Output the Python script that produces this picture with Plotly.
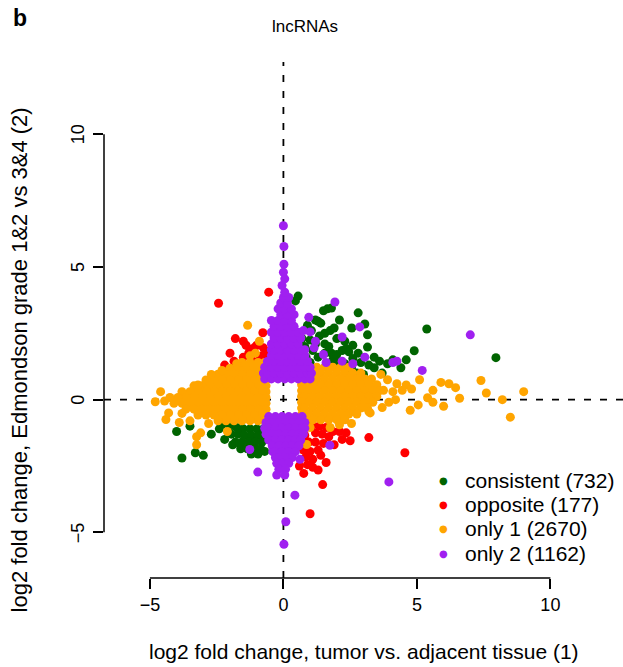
import plotly.graph_objects as go

# ---------------- data ----------------
consistent_pts = [
    (0.55, 3.9), (0.45, 3.72), (1.5, 3.35), (1.65, 3.42), (1.8, 3.45), (2.8, 3.27), (3.05, 2.85),
    (2.56, 2.7), (3.15, 2.44), (5.37, 2.66), (4.9, 1.84), (3.15, 1.98), (2.2, 1.85), (2.35, 1.92),
    (2.45, 1.8), (1.2, 3.0), (1.3, 2.95), (1.4, 2.88), (0.7, 2.3), (1.0, 2.25), (1.2, 2.1),
    (1.55, 2.1), (1.7, 2.0), (1.55, 2.5), (1.75, 2.6), (1.85, 1.5), (2.0, 1.45), (2.3, 1.35),
    (2.55, 1.2), (2.35, 1.1), (3.6, 1.45), (3.9, 1.35), (4.1, 1.5), (4.6, 1.5), (4.4, 1.2),
    (2.75, 1.0), (3.0, 0.95), (7.96, 1.58), (0.85, 1.6), (1.0, 1.4), (1.3, 1.6), (1.55, 1.75),
    (1.8, 1.75), (2.0, 1.7), (2.9, 1.4), (3.2, 1.3), (2.6, 1.55), (0.9, 2.8), (2.0, 2.3),
    (2.3, 2.2), (2.6, 2.05), (1.9, 2.7), (2.1, 3.0), (1.6, 1.3), (3.4, 1.2), (3.7, 1.0),
    (1.05, 2.6), (1.35, 2.4), (2.8, 1.75), (3.4, 1.6), (1.1, 1.85), (0.8, 2.0),
    (-4.0, -1.2), (-3.5, -1.0), (-2.7, -1.3), (-3.8, -2.2), (-3.3, -2.0), (-3.0, -2.1),
    (-2.2, -1.5), (-2.4, -1.1), (-2.3, -0.95), (-2.0, -1.0), (-1.75, -1.05), (-1.5, -1.1),
    (-1.25, -1.1), (-1.0, -1.1), (-0.75, -1.1), (-1.95, -1.3), (-1.7, -1.3), (-1.45, -1.35),
    (-1.2, -1.35), (-0.95, -1.35), (-0.7, -1.35), (-1.8, -1.6), (-1.55, -1.6), (-1.3, -1.6),
    (-1.05, -1.6), (-0.8, -1.6), (-1.6, -1.85), (-1.35, -1.85), (-1.1, -1.85), (-0.85, -1.85),
    (-0.7, -1.95), (-1.2, -2.05), (-0.95, -2.05), (-1.9, -1.7), (-1.65, -1.65),
]

opposite_pts = [
    (-2.43, 3.63), (-0.55, 4.05), (-0.77, 2.52), (-1.8, 2.3), (-1.5, 2.2), (-1.4, 2.05),
    (-2.0, 1.75), (-1.85, 1.45), (-1.8, 1.24), (-1.5, 1.6), (-1.3, 1.75), (-1.1, 1.95),
    (-1.0, 2.05), (-0.8, 1.65), (-0.6, 1.8), (-0.55, 1.6), (-0.75, 1.95), (-1.6, 1.3),
    (-1.4, 1.15), (-1.15, 1.45), (-2.2, 1.3), (-0.9, 1.5), (-0.65, 1.4), (-1.25, 1.9),
    (1.1, -0.95), (1.35, -1.0), (1.6, -1.05), (1.85, -1.2), (1.2, -1.25), (1.45, -1.3),
    (1.7, -1.4), (2.1, -1.2), (2.35, -1.25), (2.5, -1.55), (2.2, -1.5), (3.2, -1.43),
    (4.55, -2.0), (0.6, -1.2), (0.8, -1.35), (0.7, -1.6), (0.95, -1.6), (1.2, -1.6),
    (0.75, -1.9), (1.0, -1.95), (1.3, -1.9), (0.85, -2.15), (1.1, -2.25), (1.6, -2.37),
    (1.3, -2.65), (1.1, -2.55), (1.47, -3.2), (0.76, -2.78), (1.0, -4.3), (0.6, -2.5),
    (0.9, -2.45), (1.9, -1.7), (1.5, -1.65), (1.4, -2.1),
]

only1_pts = [
    # left band (dense core)
    (-0.7, 1.4), (-0.95, 1.4), (-1.25, 1.4), (-1.55, 1.4),
    (-0.65, 1.18), (-0.8, 1.18), (-1.1, 1.18), (-1.4, 1.18), (-1.7, 1.18), (-2.0, 1.18),
    (-0.65, 0.96), (-0.95, 0.96), (-1.25, 0.96), (-1.55, 0.96), (-1.85, 0.96), (-2.15, 0.96), (-2.45, 0.96),
    (-0.65, 0.74), (-0.8, 0.74), (-1.1, 0.74), (-1.4, 0.74), (-1.7, 0.74), (-2.0, 0.74), (-2.3, 0.74),
    (-2.6, 0.74), (-2.9, 0.74),
    (-0.65, 0.52), (-0.95, 0.52), (-1.25, 0.52), (-1.55, 0.52), (-1.85, 0.52), (-2.15, 0.52),
    (-2.45, 0.52), (-2.75, 0.52), (-3.05, 0.52), (-3.35, 0.52),
    (-0.65, 0.3), (-0.8, 0.3), (-1.1, 0.3), (-1.4, 0.3), (-1.7, 0.3), (-2.0, 0.3), (-2.3, 0.3),
    (-2.6, 0.3), (-2.9, 0.3), (-3.2, 0.3), (-3.5, 0.3), (-3.8, 0.3),
    (-0.65, 0.08), (-0.95, 0.08), (-1.25, 0.08), (-1.55, 0.08), (-1.85, 0.08), (-2.15, 0.08),
    (-2.45, 0.08), (-2.75, 0.08), (-3.05, 0.08), (-3.35, 0.08), (-3.65, 0.08), (-3.95, 0.08), (-4.25, 0.08),
    (-0.65, -0.14), (-0.8, -0.14), (-1.1, -0.14), (-1.4, -0.14), (-1.7, -0.14), (-2.0, -0.14),
    (-2.3, -0.14), (-2.6, -0.14), (-2.9, -0.14), (-3.2, -0.14), (-3.5, -0.14), (-3.8, -0.14), (-4.1, -0.14),
    (-0.65, -0.36), (-0.95, -0.36), (-1.25, -0.36), (-1.55, -0.36), (-1.85, -0.36), (-2.15, -0.36),
    (-2.45, -0.36), (-2.75, -0.36), (-3.05, -0.36), (-3.35, -0.36), (-3.65, -0.36),
    (-0.65, -0.58), (-0.8, -0.58), (-1.1, -0.58), (-1.4, -0.58), (-1.7, -0.58), (-2.0, -0.58),
    (-2.3, -0.58), (-2.6, -0.58), (-2.9, -0.58), (-3.2, -0.58),
    (-0.7, -0.8), (-0.95, -0.8), (-1.25, -0.8), (-1.55, -0.8), (-1.85, -0.8), (-2.15, -0.8), (-2.45, -0.8),
    # left sparse
    (-4.6, 0.3), (-4.8, -0.08), (-4.45, -0.05), (-4.3, -0.5), (-4.4, -0.75), (-3.9, -0.86),
    (-3.8, -0.52), (-3.5, -0.8), (-3.25, -1.4), (-3.25, -1.7), (-2.8, -0.9), (-2.1, -1.2),
    (-3.1, -1.25), (-1.34, 2.8), (-0.9, 2.2), (-1.25, 1.65), (-1.05, 1.75), (-2.7, 0.95),
    (-3.2, 0.55), (-2.3, 1.1), (-1.75, 1.35),
    # right band (dense core)
    (0.7, 1.22), (0.95, 1.22), (1.25, 1.22), (1.55, 1.22), (1.85, 1.22), (2.15, 1.22), (2.45, 1.22),
    (0.68, 1.0), (0.8, 1.0), (1.1, 1.0), (1.4, 1.0), (1.7, 1.0), (2.0, 1.0), (2.3, 1.0), (2.6, 1.0), (2.9, 1.0),
    (0.68, 0.78), (0.95, 0.78), (1.25, 0.78), (1.55, 0.78), (1.85, 0.78), (2.15, 0.78), (2.45, 0.78),
    (2.75, 0.78), (3.05, 0.78), (3.3, 0.78),
    (0.68, 0.56), (0.8, 0.56), (1.1, 0.56), (1.4, 0.56), (1.7, 0.56), (2.0, 0.56), (2.3, 0.56),
    (2.6, 0.56), (2.9, 0.56), (3.2, 0.56), (3.5, 0.56),
    (0.68, 0.34), (0.95, 0.34), (1.25, 0.34), (1.55, 0.34), (1.85, 0.34), (2.15, 0.34), (2.45, 0.34),
    (2.75, 0.34), (3.05, 0.34), (3.35, 0.34), (3.6, 0.34),
    (0.68, 0.12), (0.8, 0.12), (1.1, 0.12), (1.4, 0.12), (1.7, 0.12), (2.0, 0.12), (2.3, 0.12),
    (2.6, 0.12), (2.9, 0.12), (3.2, 0.12), (3.5, 0.12),
    (0.68, -0.1), (0.95, -0.1), (1.25, -0.1), (1.55, -0.1), (1.85, -0.1), (2.15, -0.1), (2.45, -0.1),
    (2.75, -0.1), (3.05, -0.1), (3.35, -0.1),
    (0.68, -0.32), (0.8, -0.32), (1.1, -0.32), (1.4, -0.32), (1.7, -0.32), (2.0, -0.32), (2.3, -0.32),
    (2.6, -0.32), (2.9, -0.32), (3.15, -0.32),
    (0.7, -0.54), (0.95, -0.54), (1.25, -0.54), (1.55, -0.54), (1.85, -0.54), (2.15, -0.54),
    (2.45, -0.54), (2.75, -0.54),
    (0.8, -0.76), (1.1, -0.76), (1.4, -0.76), (1.7, -0.76), (2.0, -0.76), (2.3, -0.76),
    # right sparse
    (3.9, 0.75), (4.25, 0.6), (4.6, 0.55), (3.75, 0.35), (4.1, 0.3), (4.45, 0.35), (4.8, 0.4),
    (4.75, -0.4), (3.95, -0.1), (3.7, -0.3), (3.25, -0.5), (5.4, 0.07), (4.2, 0.0), (3.65, 0.95),
    (1.0, -1.05), (1.75, -1.05), (2.1, -0.95), (2.55, -0.9), (0.87, -1.69), (3.2, -0.45),
    (5.6, 0.35), (5.9, 0.65), (6.2, 0.6), (6.45, 0.45), (6.6, 0.05), (5.6, -0.1), (6.0, -0.25),
    (7.4, 0.72), (7.6, 0.25), (8.2, 0.0), (9.0, 0.3), (8.5, -0.66), (5.1, 0.75), (5.05, -0.2),
]

only2_pts = [
    # upper column (dense core)
    (-0.7, 0.78), (-0.45, 0.78), (-0.2, 0.78), (0.05, 0.78), (0.3, 0.78), (0.55, 0.78), (0.8, 0.78), (1.0, 0.78),
    (-0.75, 1.0), (-0.6, 1.0), (-0.35, 1.0), (-0.1, 1.0), (0.15, 1.0), (0.4, 1.0), (0.65, 1.0), (0.9, 1.0), (1.05, 1.0),
    (-0.7, 1.22), (-0.45, 1.22), (-0.2, 1.22), (0.05, 1.22), (0.3, 1.22), (0.55, 1.22), (0.8, 1.22), (1.0, 1.22),
    (-0.6, 1.44), (-0.35, 1.44), (-0.1, 1.44), (0.15, 1.44), (0.4, 1.44), (0.65, 1.44), (0.9, 1.44),
    (-0.45, 1.66), (-0.2, 1.66), (0.05, 1.66), (0.3, 1.66), (0.55, 1.66), (0.8, 1.66),
    (-0.45, 1.88), (-0.35, 1.88), (-0.1, 1.88), (0.15, 1.88), (0.4, 1.88), (0.65, 1.88), (0.8, 1.88),
    (-0.45, 2.1), (-0.2, 2.1), (0.05, 2.1), (0.3, 2.1), (0.55, 2.1),
    (-0.35, 2.32), (-0.1, 2.32), (0.15, 2.32), (0.4, 2.32), (0.65, 2.32),
    (-0.45, 2.54), (-0.2, 2.54), (0.05, 2.54), (0.3, 2.54), (0.55, 2.54),
    (-0.35, 2.76), (-0.1, 2.76), (0.15, 2.76), (0.4, 2.76),
    (-0.45, 2.98), (-0.2, 2.98), (0.05, 2.98), (0.3, 2.98),
    (-0.1, 3.2), (0.15, 3.2), (0.4, 3.2),
    (-0.2, 3.42), (0.05, 3.42), (0.3, 3.42),
    (-0.1, 3.64), (0.15, 3.64), (0.0, 3.85), (0.2, 3.85), (0.05, 4.05), (-0.05, 4.3),
    (0.05, 4.55), (0.0, 4.8), (0.02, 5.1), (0.02, 5.77), (0.0, 6.55),
    # upper scattered
    (1.0, 2.55), (1.2, 2.2), (1.15, 1.95), (1.5, 1.7), (1.6, 1.4), (2.2, 1.45), (2.6, 1.35),
    (1.93, 3.68), (2.86, 2.74), (2.2, 2.36), (3.05, 1.6), (4.1, 1.4), (4.25, 1.45), (5.2, 1.1),
    (7.0, 2.44), (0.95, 3.1), (0.75, 2.6),
    # lower column (dense core)
    (-0.55, -0.64), (-0.3, -0.64), (-0.05, -0.64), (0.2, -0.64), (0.45, -0.64), (0.7, -0.64),
    (-0.65, -0.86), (-0.42, -0.86), (-0.17, -0.86), (0.08, -0.86), (0.33, -0.86), (0.58, -0.86), (0.8, -0.86),
    (-0.7, -1.08), (-0.55, -1.08), (-0.3, -1.08), (-0.05, -1.08), (0.2, -1.08), (0.45, -1.08), (0.7, -1.08), (0.8, -1.08),
    (-0.65, -1.3), (-0.42, -1.3), (-0.17, -1.3), (0.08, -1.3), (0.33, -1.3), (0.58, -1.3), (0.75, -1.3),
    (-0.55, -1.52), (-0.3, -1.52), (-0.05, -1.52), (0.2, -1.52), (0.45, -1.52), (0.65, -1.52),
    (-0.42, -1.74), (-0.17, -1.74), (0.08, -1.74), (0.33, -1.74), (0.58, -1.74),
    (-0.4, -1.96), (-0.3, -1.96), (-0.05, -1.96), (0.2, -1.96), (0.45, -1.96),
    (-0.3, -2.18), (-0.17, -2.18), (0.08, -2.18), (0.33, -2.18),
    (-0.25, -2.4), (-0.05, -2.4), (0.2, -2.4), (-0.17, -2.62), (0.08, -2.62),
    (-0.25, -2.84), (0.05, -2.84),
    # lower scattered
    (-1.26, -1.88), (-0.96, -2.73), (0.43, -3.6), (0.09, -4.6), (0.02, -5.45), (1.74, -1.72),
    (3.95, -3.1), (0.62, -2.25),
]

group_names = ["consistent", "opposite", "only 1", "only 2"]
group_counts = [732, 177, 2670, 1162]
group_points = [consistent_pts, opposite_pts, only1_pts, only2_pts]

tick_vals = [-5, 0, 5, 10]
tick_text = ["\u22125", "0", "5", "10"]

# ---------------- style ----------------
colors = ["#006400", "#FF0000", "#FFA500", "#A020F0"]
FONT = "Liberation Sans, Arial, Helvetica, sans-serif"
AX_RANGE = [-6.72, 12.72]

fig = go.Figure()
for name, pts, col in zip(group_names, group_points, colors):
    xs = [p[0] for p in pts]
    ys = [p[1] for p in pts]
    fig.add_trace(go.Scatter(
        x=xs, y=ys, mode="markers", name=name, showlegend=False,
        marker=dict(size=9, color=col, line=dict(width=0)),
        hoverinfo="skip",
    ))

axis_common = dict(
    range=AX_RANGE, showgrid=False, zeroline=False, showline=False,
    tickvals=tick_vals, ticktext=tick_text, ticks="outside", ticklen=10,
    tickwidth=1.5, tickcolor="black", tickfont=dict(family=FONT, size=18, color="black"),
    fixedrange=True, automargin=False,
)
fig.update_xaxes(**axis_common)
# y tick labels are drawn rotated (R style) as annotations below
fig.update_yaxes(**axis_common, showticklabels=False)

shapes = [
    # axis lines spanning -5..10 only (R style)
    dict(type="line", xref="x", yref="paper", x0=-5, x1=10, y0=0, y1=0,
         line=dict(color="black", width=1.5), layer="above"),
    dict(type="line", xref="paper", yref="y", x0=0, x1=0, y0=-5, y1=10,
         line=dict(color="black", width=1.5), layer="above"),
    # dashed reference lines
    dict(type="line", xref="x", yref="paper", x0=0, x1=0, y0=0, y1=1,
         line=dict(color="black", width=1.8, dash="7px,9px"), layer="below"),
    dict(type="line", xref="paper", yref="y", x0=0, x1=1, y0=0, y1=0,
         line=dict(color="black", width=1.8, dash="7px,9px"), layer="below"),
]

annotations = [
    dict(text="<b>b</b>", xref="paper", yref="paper", x=-0.162, y=1.085,
         showarrow=False, font=dict(family=FONT, size=23, color="black"),
         xanchor="center", yanchor="middle"),
    dict(text="lncRNAs", xref="paper", yref="paper", x=0.387, y=1.068,
         showarrow=False, font=dict(family=FONT, size=17, color="black"),
         xanchor="center", yanchor="middle"),
    dict(text="log2 fold change, tumor vs. adjacent tissue (1)", xref="paper", yref="paper",
         x=0.5, y=-0.142, showarrow=False, font=dict(family=FONT, size=21, color="black"),
         xanchor="center", yanchor="middle"),
    dict(text="log2 fold change, Edmondson grade 1&2 vs 3&4 (2)", xref="paper", yref="paper",
         x=-0.161, y=0.4225, textangle=-90, showarrow=False,
         font=dict(family=FONT, size=22, color="black"), xanchor="center", yanchor="middle"),
]

# rotated y tick labels
for tv, tt in zip(tick_vals, tick_text):
    annotations.append(dict(text=tt, xref="paper", yref="y", x=-0.0501, y=tv, textangle=-90,
                            showarrow=False, font=dict(family=FONT, size=18, color="black"),
                            xanchor="center", yanchor="middle"))

# legend (R-style: small bullet + label)
legend_rows_y = [0.188, 0.1415, 0.095, 0.0484]
for name, cnt, col, ly in zip(group_names, group_counts, colors, legend_rows_y):
    annotations.append(dict(text="\u25CF", xref="paper", yref="paper", x=0.6551, y=ly,
                            showarrow=False, font=dict(family="DejaVu Sans", size=10, color=col),
                            xanchor="center", yanchor="middle"))
    annotations.append(dict(text=f"{name} ({cnt})", xref="paper", yref="paper", x=0.6917, y=ly,
                            showarrow=False, font=dict(family=FONT, size=21, color="black"),
                            xanchor="left", yanchor="middle"))

fig.update_layout(
    width=623, height=667,
    margin=dict(l=104, r=0, t=62, b=89),
    plot_bgcolor="white", paper_bgcolor="white",
    showlegend=False,
    shapes=shapes, annotations=annotations,
)

fig.write_html("out.html")
